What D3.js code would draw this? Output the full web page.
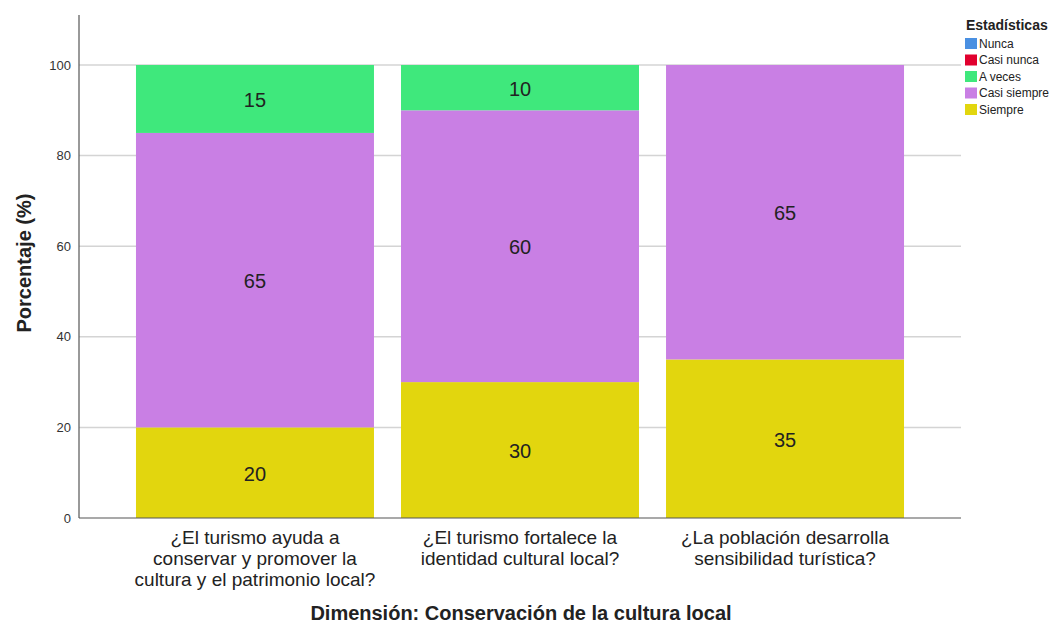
<!DOCTYPE html>
<html><head><meta charset="utf-8">
<script src="https://cdn.jsdelivr.net/npm/d3@7"></script>
<style>body{margin:0;background:#fff;font-family:Arial,"Liberation Sans",sans-serif;}</style>
</head><body>
<svg id="c" width="1059" height="625"></svg>
<script>
const categories = [
  ["¿El turismo ayuda a","conservar y promover la","cultura y el patrimonio local?"],
  ["¿El turismo fortalece la","identidad cultural local?"],
  ["¿La población desarrolla","sensibilidad turística?"]
];
const seriesNames = ["Nunca","Casi nunca","A veces","Casi siempre","Siempre"];
const seriesColors = ["#4a90e2","#e1002e","#3fe87c","#c97fe4","#e2d60e"];
const nunca = [0,0,0];
const casiNunca = [0,0,0];
const aVeces = [15,10,0];
const casiSiempre = [65,60,65];
const siempre = [20,30,35];
const yTicks = [0,20,40,60,80,100];

(function(){
const svg = d3.select("#c");
const pLeft = 79, pRight = 961, pBottom = 518, pTop = 15;
const y = d3.scaleLinear().domain([0,100]).range([pBottom,65]);
const x = d3.scaleBand().domain(d3.range(categories.length)).range([pLeft,pRight]).paddingInner(0.102).paddingOuter(0.215);

svg.append("g").selectAll("line").data(yTicks.filter(d=>d>0)).join("line")
  .attr("x1",pLeft).attr("x2",pRight).attr("y1",d=>y(d)).attr("y2",d=>y(d))
  .attr("stroke","#d4d4d4").attr("stroke-width",1.5);

const order = [
  {name:"Siempre", vals:siempre, color:seriesColors[4]},
  {name:"Casi siempre", vals:casiSiempre, color:seriesColors[3]},
  {name:"A veces", vals:aVeces, color:seriesColors[2]},
  {name:"Casi nunca", vals:casiNunca, color:seriesColors[1]},
  {name:"Nunca", vals:nunca, color:seriesColors[0]}
];
const segs = [];
categories.forEach((c,i)=>{
  let acc = 0;
  order.forEach(s=>{
    const v = s.vals[i];
    if (v>0) segs.push({i, y0:acc, y1:acc+v, v, color:s.color});
    acc += v;
  });
});
svg.append("g").selectAll("rect").data(segs).join("rect")
  .attr("x",d=>x(d.i)).attr("width",x.bandwidth())
  .attr("y",d=>y(d.y1)).attr("height",d=>y(d.y0)-y(d.y1))
  .attr("fill",d=>d.color);
svg.append("g").selectAll("text").data(segs).join("text")
  .attr("x",d=>x(d.i)+x.bandwidth()/2).attr("y",d=>y((d.y0+d.y1)/2)+1)
  .attr("dy","0.35em").attr("text-anchor","middle")
  .attr("font-size",20).attr("fill","#222").text(d=>d.v);

svg.append("line").attr("x1",pLeft).attr("x2",pLeft).attr("y1",pTop).attr("y2",pBottom).attr("stroke","#555").attr("stroke-width",1.2);
svg.append("line").attr("x1",pLeft).attr("x2",pRight).attr("y1",pBottom).attr("y2",pBottom).attr("stroke","#555").attr("stroke-width",1.2);
svg.append("g").selectAll("text").data(yTicks).join("text")
  .attr("x",71).attr("y",d=>y(d)).attr("dy","0.35em").attr("text-anchor","end")
  .attr("font-size",13).attr("fill","#333").text(d=>d);

svg.append("text").attr("transform","translate(31,263) rotate(-90)")
  .attr("text-anchor","middle").attr("font-size",20).attr("font-weight","bold").attr("fill","#222")
  .text("Porcentaje (%)");

const xl = svg.append("g").selectAll("text").data(categories).join("text")
  .attr("x",(d,i)=>x(i)+x.bandwidth()/2).attr("y",544)
  .attr("text-anchor","middle").attr("font-size",19).attr("fill","#222");
xl.each(function(lines){
  const sel = d3.select(this);
  const cx = sel.attr("x");
  sel.selectAll("tspan").data(lines).join("tspan")
    .attr("x",cx).attr("dy",(d,j)=>j===0?0:21).text(d=>d);
});
svg.append("text").attr("x",521).attr("y",620).attr("text-anchor","middle")
  .attr("font-size",20).attr("font-weight","bold").attr("fill","#222")
  .text("Dimensión: Conservación de la cultura local");

const lg = svg.append("g");
lg.append("text").attr("x",966).attr("y",30).attr("font-size",14).attr("font-weight","bold").attr("fill","#222").text("Estadísticas");
seriesNames.forEach((n,k)=>{
  const yy = 38 + k*16.5;
  lg.append("rect").attr("x",965).attr("y",yy).attr("width",12).attr("height",11).attr("fill",seriesColors[k]);
  lg.append("text").attr("x",979).attr("y",yy+5.5).attr("dy","0.35em").attr("font-size",12).attr("fill","#222").text(n);
});
})();
</script>
</body></html>
